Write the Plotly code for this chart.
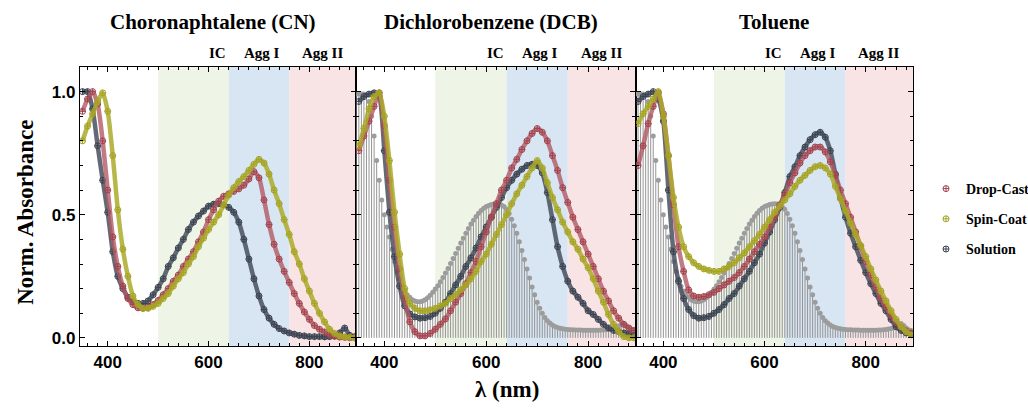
import plotly.graph_objects as go

# ---------------- data ----------------
wavelength = list(range(350, 891, 10))          # nm, measured curves
stem_wavelength = list(range(345, 891, 5))      # nm, reference solution stems

cn_drop = [0.92, 0.97, 1.0, 0.95, 0.80, 0.60, 0.41, 0.29, 0.21, 0.16,
           0.135, 0.122, 0.12, 0.124, 0.135, 0.152, 0.175, 0.2, 0.23, 0.255,
           0.29, 0.32, 0.35, 0.39, 0.43, 0.48, 0.52, 0.555, 0.575, 0.585,
           0.595, 0.605, 0.62, 0.645, 0.675, 0.65, 0.56, 0.46, 0.38, 0.32,
           0.27, 0.225, 0.18, 0.14, 0.105, 0.075, 0.05, 0.035, 0.024, 0.012,
           0.006, 0.003, 0.002, 0.0, 0.0]
cn_spin = [0.8, 0.86, 0.91, 0.96, 0.995, 0.92, 0.74, 0.52, 0.36, 0.25,
           0.17, 0.135, 0.12, 0.12, 0.128, 0.14, 0.16, 0.18, 0.21, 0.24,
           0.265, 0.3, 0.33, 0.37, 0.405, 0.44, 0.47, 0.5, 0.54, 0.58,
           0.61, 0.635, 0.655, 0.68, 0.705, 0.725, 0.71, 0.665, 0.6, 0.545,
           0.48, 0.42, 0.35, 0.3, 0.24, 0.19, 0.14, 0.1, 0.065, 0.035,
           0.018, 0.008, 0.004, 0.002, 0.0]
cn_solution = [1.0, 1.0, 0.93, 0.78, 0.64, 0.51, 0.35, 0.25, 0.2, 0.165,
               0.148, 0.14, 0.14, 0.15, 0.175, 0.205, 0.24, 0.29, 0.325, 0.365,
               0.4, 0.44, 0.47, 0.495, 0.515, 0.535, 0.543, 0.545, 0.54, 0.53,
               0.51, 0.47, 0.40, 0.32, 0.24, 0.17, 0.115, 0.08, 0.055, 0.038,
               0.028, 0.02, 0.015, 0.01, 0.008, 0.005, 0.005, 0.005, 0.004, 0.005,
               0.008, 0.02, 0.04, 0.01, 0.005]

dcb_drop = [0.76, 0.82, 0.88, 0.94, 0.995, 0.86, 0.64, 0.45, 0.28, 0.16,
            0.065, 0.025, 0.008, 0.008, 0.018, 0.035, 0.055, 0.077, 0.11, 0.145,
            0.18, 0.22, 0.265, 0.31, 0.37, 0.43, 0.49, 0.545, 0.6, 0.64,
            0.69, 0.725, 0.765, 0.8, 0.83, 0.85, 0.835, 0.8, 0.74, 0.68,
            0.61, 0.55, 0.49, 0.44, 0.39, 0.34, 0.29, 0.24, 0.19, 0.15,
            0.11, 0.08, 0.055, 0.04, 0.03]
dcb_spin = [0.78, 0.85, 0.93, 0.98, 0.995, 0.9, 0.72, 0.51, 0.34, 0.2,
            0.14, 0.12, 0.11, 0.11, 0.114, 0.12, 0.13, 0.14, 0.16, 0.175,
            0.195, 0.215, 0.24, 0.27, 0.31, 0.34, 0.38, 0.42, 0.46, 0.5,
            0.545, 0.585, 0.62, 0.655, 0.69, 0.72, 0.69, 0.63, 0.57, 0.52,
            0.47, 0.43, 0.39, 0.36, 0.32, 0.285, 0.24, 0.19, 0.145, 0.095,
            0.055, 0.025, 0.005, 0.0, 0.0]
dcb_solution = [0.96, 0.98, 0.99, 0.995, 0.98, 0.76, 0.51, 0.33, 0.21, 0.13,
                0.097, 0.085, 0.08, 0.082, 0.087, 0.1, 0.12, 0.145, 0.18, 0.215,
                0.25, 0.29, 0.325, 0.365, 0.41, 0.45, 0.49, 0.53, 0.57, 0.61,
                0.64, 0.665, 0.685, 0.7, 0.705, 0.7, 0.67, 0.59, 0.48, 0.37,
                0.29, 0.23, 0.19, 0.165, 0.14, 0.11, 0.095, 0.075, 0.055, 0.04,
                0.03, 0.025, 0.02, 0.015, 0.01]

tol_drop = [0.7, 0.78, 0.87, 0.94, 0.995, 0.91, 0.74, 0.54, 0.37, 0.27,
            0.195, 0.17, 0.165, 0.168, 0.175, 0.185, 0.2, 0.215, 0.23, 0.245,
            0.265, 0.29, 0.32, 0.35, 0.38, 0.41, 0.45, 0.49, 0.54, 0.58,
            0.63, 0.67, 0.71, 0.74, 0.76, 0.775, 0.775, 0.755, 0.715, 0.66,
            0.6, 0.545, 0.49, 0.43, 0.37, 0.31, 0.255, 0.205, 0.16, 0.125,
            0.09, 0.063, 0.042, 0.028, 0.02]
tol_spin = [0.87, 0.91, 0.94, 0.97, 1.0, 0.9, 0.74, 0.57, 0.45, 0.37,
            0.33, 0.305, 0.29, 0.28, 0.274, 0.27, 0.27, 0.28, 0.29, 0.305,
            0.325, 0.345, 0.37, 0.395, 0.42, 0.45, 0.48, 0.51, 0.535, 0.56,
            0.585, 0.615, 0.64, 0.66, 0.68, 0.695, 0.7, 0.69, 0.665, 0.615,
            0.565, 0.515, 0.466, 0.42, 0.375, 0.33, 0.28, 0.235, 0.19, 0.15,
            0.11, 0.075, 0.045, 0.025, 0.012]
tol_solution = [0.96, 0.98, 0.99, 1.0, 0.97, 0.88, 0.6, 0.35, 0.23, 0.16,
                0.115, 0.09, 0.08, 0.082, 0.087, 0.1, 0.115, 0.135, 0.16, 0.18,
                0.21, 0.24, 0.27, 0.305, 0.34, 0.385, 0.43, 0.48, 0.53, 0.59,
                0.655, 0.695, 0.74, 0.775, 0.805, 0.825, 0.835, 0.815, 0.76, 0.665,
                0.57, 0.49, 0.425, 0.37, 0.315, 0.265, 0.22, 0.18, 0.14, 0.11,
                0.075, 0.045, 0.03, 0.02, 0.015]

stem_solution = [0.99, 0.99, 0.99, 0.99, 0.985, 0.96, 0.9, 0.82, 0.72, 0.64,
                 0.56, 0.5, 0.45, 0.41, 0.36, 0.31, 0.27, 0.24, 0.21, 0.19,
                 0.175, 0.165, 0.155, 0.15, 0.147, 0.147, 0.15, 0.155, 0.163, 0.173,
                 0.185, 0.198, 0.212, 0.228, 0.245, 0.263, 0.282, 0.302, 0.322, 0.343,
                 0.364, 0.385, 0.405, 0.425, 0.444, 0.462, 0.478, 0.493, 0.506, 0.517,
                 0.526, 0.533, 0.538, 0.542, 0.544, 0.545, 0.544, 0.54, 0.533, 0.522,
                 0.505, 0.482, 0.455, 0.425, 0.39, 0.355, 0.318, 0.28, 0.243, 0.207,
                 0.175, 0.145, 0.12, 0.1, 0.083, 0.07, 0.06, 0.052, 0.046, 0.042,
                 0.039, 0.037, 0.035, 0.034, 0.033, 0.033, 0.032, 0.032, 0.032, 0.031,
                 0.031, 0.031, 0.031, 0.031, 0.031, 0.031, 0.032, 0.032, 0.033, 0.034,
                 0.036, 0.038, 0.042, 0.048, 0.055, 0.058, 0.05, 0.04, 0.033, 0.03]

panel_titles = ["Choronaphtalene (CN)", "Dichlorobenzene (DCB)", "Toluene"]
series_names = ["Drop-Cast", "Spin-Coat", "Solution"]
region_names = ["IC", "Agg I", "Agg II"]
region_edges = [500, 640, 760, 900]
x_ticks = [400, 600, 800]

panels = [
    {"Drop-Cast": cn_drop, "Spin-Coat": cn_spin, "Solution": cn_solution},
    {"Drop-Cast": dcb_drop, "Spin-Coat": dcb_spin, "Solution": dcb_solution},
    {"Drop-Cast": tol_drop, "Spin-Coat": tol_spin, "Solution": tol_solution},
]
has_stems = [False, True, True]

# ---------------- style ----------------
marker_colors = {"Drop-Cast": "#a2424c", "Spin-Coat": "#a5a322", "Solution": "#3a4250"}
band_colors = {"Drop-Cast": "rgba(178,90,100,0.8)", "Spin-Coat": "rgba(172,170,42,0.85)",
               "Solution": "rgba(72,80,94,0.85)"}
region_colors = ["#eef4e6", "#d8e5f3", "#f8e3e5"]
SERIF = "Liberation Serif"
SANS = "Liberation Sans"

W, H = 1028, 408
L, R, T, B = 80, 104, 67, 62
px_edges = [80, 360, 643, 924]
plot_w = W - L - R
plot_h = H - T - B
domains = [[(px_edges[i] - L) / plot_w, (px_edges[i + 1] - L) / plot_w] for i in range(3)]

fig = go.Figure()
draw_order = ["Solution", "Drop-Cast", "Spin-Coat"]
legend_rank = {"Drop-Cast": 1, "Spin-Coat": 2, "Solution": 3}

for i, data in enumerate(panels):
    xa = "x" if i == 0 else f"x{i+1}"
    ya = "y" if i == 0 else f"y{i+1}"
    if has_stems[i]:
        fig.add_trace(go.Scatter(
            x=stem_wavelength, y=stem_solution, xaxis=xa, yaxis=ya, mode="markers",
            marker=dict(symbol="circle", size=5, color="#9c9c9c"),
            error_y=dict(type="data", symmetric=False, array=[0] * len(stem_solution),
                         arrayminus=stem_solution, width=0, thickness=1, color="#959595"),
            showlegend=False, hoverinfo="skip"))
    for name in draw_order:
        fig.add_trace(go.Scatter(
            x=wavelength, y=data[name], xaxis=xa, yaxis=ya, mode="lines",
            line=dict(color=band_colors[name], width=4.5, shape="spline", smoothing=0.6),
            showlegend=False, hoverinfo="skip"))
        fig.add_trace(go.Scatter(
            x=wavelength, y=data[name], xaxis=xa, yaxis=ya, mode="markers", name=name,
            marker=dict(symbol="circle-cross-open", size=6, color=marker_colors[name],
                        line=dict(width=1)),
            showlegend=(i == 0), legendrank=legend_rank[name], legendgroup=name))

    for k in range(3):
        fig.add_shape(type="rect", xref=xa, yref=f"{ya} domain",
                      x0=region_edges[k], x1=region_edges[k + 1], y0=0, y1=1,
                      fillcolor=region_colors[k], line_width=0, layer="below")

axis_common = dict(showline=True, linecolor="black", linewidth=1.2, mirror="allticks",
                   ticks="inside", tickcolor="black", showgrid=False, zeroline=False)

for i in range(3):
    xkey = "xaxis" if i == 0 else f"xaxis{i+1}"
    ykey = "yaxis" if i == 0 else f"yaxis{i+1}"
    fig.update_layout({
        xkey: dict(axis_common, domain=domains[i], range=[345, 893],
                   anchor="y" if i == 0 else f"y{i+1}",
                   tickmode="array", tickvals=x_ticks, ticklen=5,
                   minor=dict(ticks="inside", dtick=20, tick0=0, ticklen=3, tickcolor="black"),
                   tickfont=dict(family=SANS, size=17, color="black", weight="bold")),
        ykey: dict(axis_common, domain=[0, 1], range=[-0.033, 1.1],
                   anchor="x" if i == 0 else f"x{i+1}",
                   tickmode="array", tickvals=[0, 0.5, 1.0], ticktext=["0.0", "0.5", "1.0"],
                   ticklen=5, showticklabels=(i == 0),
                   minor=dict(ticks="inside", dtick=0.1, tick0=0, ticklen=3, tickcolor="black"),
                   tickfont=dict(family=SANS, size=17, color="black", weight="bold")),
    })

annotations = []
title_px = [215, 497, 783]
for i, t in enumerate(panel_titles):
    annotations.append(dict(text=t, xref="paper", yref="paper",
                            x=(title_px[i] - L) / plot_w, y=1 + (T - 22) / plot_h,
                            xanchor="center", yanchor="middle", showarrow=False,
                            font=dict(family=SERIF, size=21, color="black", weight="bold")))
region_label_x = [618, 706, 826]
for i in range(3):
    xa = "x" if i == 0 else f"x{i+1}"
    for k, rn in enumerate(region_names):
        annotations.append(dict(text=rn, xref=xa, yref="paper", x=region_label_x[k],
                                y=1 + (T - 53) / plot_h, xanchor="center", yanchor="middle",
                                showarrow=False,
                                font=dict(family=SERIF, size=15, color="black", weight="bold")))
annotations.append(dict(text="Norm. Absorbance", xref="paper", yref="paper",
                        x=(24 - L) / plot_w, y=(H - B - 212) / plot_h, textangle=-90,
                        xanchor="center", yanchor="middle", showarrow=False,
                        font=dict(family=SERIF, size=23, color="black", weight="bold")))
annotations.append(dict(text="λ (nm)", xref="paper", yref="paper",
                        x=(513 - L) / plot_w, y=-(389 - (H - B)) / plot_h,
                        xanchor="center", yanchor="middle", showarrow=False,
                        font=dict(family=SERIF, size=23, color="black", weight="bold")))

fig.update_layout(
    width=W, height=H, margin=dict(l=L, r=R, t=T, b=B),
    paper_bgcolor="white", plot_bgcolor="white",
    annotations=annotations,
    showlegend=True,
    legend=dict(xref="container", yref="container", x=926 / W, y=1 - 173 / H,
                xanchor="left", yanchor="top", bgcolor="rgba(0,0,0,0)",
                font=dict(family=SERIF, size=14, color="black", weight="bold"),
                itemwidth=30, tracegroupgap=9),
)

fig.write_html("out.html")
